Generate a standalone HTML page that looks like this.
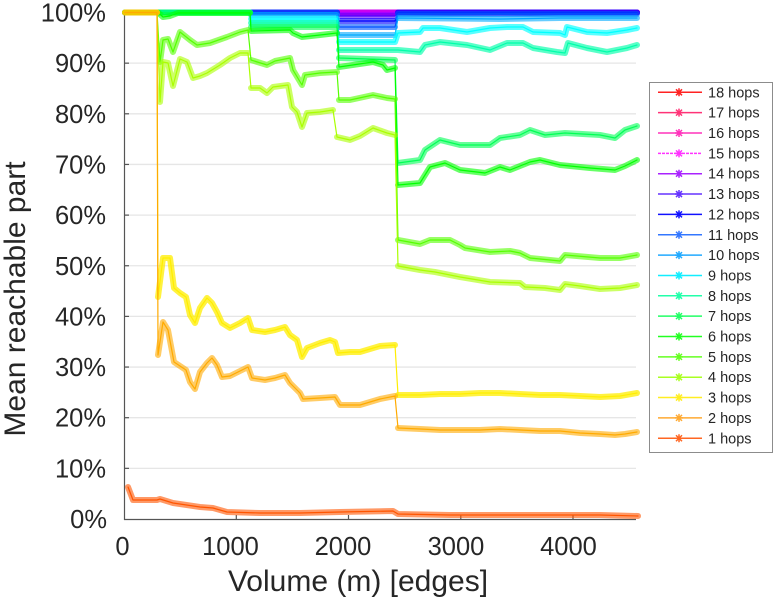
<!DOCTYPE html>
<html>
<head>
<meta charset="utf-8">
<style>
html,body{margin:0;padding:0;background:#fff;}
body{width:775px;height:600px;overflow:hidden;}
svg{display:block;}
text{font-family:"Liberation Sans",Arial,sans-serif;fill:#262626;}
</style>
</head>
<body>
<svg width="775" height="600" viewBox="0 0 775 600" xmlns="http://www.w3.org/2000/svg">
<rect x="0" y="0" width="775" height="600" fill="#fff"/>

<!-- gridlines -->
<g stroke="#e6e6e6" stroke-width="1.3">
<line x1="125" y1="468.35" x2="636" y2="468.35"/>
<line x1="125" y1="417.7" x2="636" y2="417.7"/>
<line x1="125" y1="367.05" x2="636" y2="367.05"/>
<line x1="125" y1="316.4" x2="636" y2="316.4"/>
<line x1="125" y1="265.75" x2="636" y2="265.75"/>
<line x1="125" y1="215.1" x2="636" y2="215.1"/>
<line x1="125" y1="164.45" x2="636" y2="164.45"/>
<line x1="125" y1="113.8" x2="636" y2="113.8"/>
<line x1="125" y1="63.15" x2="636" y2="63.15"/>
</g>

<!-- axes -->
<g stroke="#555" stroke-width="1.2" fill="none">
<line x1="124.5" y1="11" x2="124.5" y2="520"/>
<line x1="124" y1="519.5" x2="636" y2="519.5"/>
<line x1="236.3" y1="519.5" x2="236.3" y2="515"/>
<line x1="348.5" y1="519.5" x2="348.5" y2="515"/>
<line x1="460.8" y1="519.5" x2="460.8" y2="515"/>
<line x1="573" y1="519.5" x2="573" y2="515"/>
<line x1="124.5" y1="468.35" x2="129" y2="468.35"/>
<line x1="124.5" y1="417.7" x2="129" y2="417.7"/>
<line x1="124.5" y1="367.05" x2="129" y2="367.05"/>
<line x1="124.5" y1="316.4" x2="129" y2="316.4"/>
<line x1="124.5" y1="265.75" x2="129" y2="265.75"/>
<line x1="124.5" y1="215.1" x2="129" y2="215.1"/>
<line x1="124.5" y1="164.45" x2="129" y2="164.45"/>
<line x1="124.5" y1="113.8" x2="129" y2="113.8"/>
<line x1="124.5" y1="63.15" x2="129" y2="63.15"/>
</g>

<!-- series: draw 18 first, 1 last -->
<g fill="none" stroke-linejoin="round" stroke-linecap="round">
<g stroke="#ff0000"><path d="M125,12.5 L637,12.5" stroke-width="6" stroke-opacity=".6"/><path d="M125,12.5 L637,12.5" stroke-width="1.2"/></g>
<g stroke="#ff0055"><path d="M125,12.5 L637,12.5" stroke-width="6" stroke-opacity=".6"/><path d="M125,12.5 L637,12.5" stroke-width="1.2"/></g>
<g stroke="#ff00aa"><path d="M125,12.5 L637,12.5" stroke-width="6" stroke-opacity=".6"/><path d="M125,12.5 L637,12.5" stroke-width="1.2"/></g>
<g stroke="#ff00ff"><path d="M125,12.5 L637,12.5" stroke-width="6" stroke-opacity=".6"/><path d="M125,12.5 L637,12.5" stroke-width="1.2"/></g>
<g stroke="#aa00ff"><path d="M125,12.5 L637,12.5" stroke-width="6" stroke-opacity=".6"/><path d="M125,12.5 L637,12.5" stroke-width="1.2"/></g>
<g stroke="#5500ff"><path d="M125,12.5 L337,12.5 M339,16 L395,16 M398,12.5 L637,12.5" stroke-width="6" stroke-opacity=".6"/><polyline points="125,12.5 337,12.5 339,16 395,16 398,12.5 637,12.5" stroke-width="1.2"/></g>
<g stroke="#0000ff"><path d="M125,12.5 L337,12.5 M339,21 L395,21 M398,12.5 L637,12.5" stroke-width="6" stroke-opacity=".6"/><polyline points="125,12.5 337,12.5 339,21 395,21 398,12.5 637,12.5" stroke-width="1.2"/></g>
<g stroke="#0055ff"><path d="M125,12.5 L337,12.5 M339,27 L395,27 M398,14 L637,14" stroke-width="6" stroke-opacity=".6"/><polyline points="125,12.5 337,12.5 339,27 395,27 398,14 637,14" stroke-width="1.2"/></g>
<g stroke="#00aaff"><path d="M125,12.5 L250,12.5 M251,15 L337,15 M339,35 L395,35 M398,18 L500,19 L560,18 L637,18" stroke-width="6" stroke-opacity=".6"/><polyline points="125,12.5 250,12.5 251,15 337,15 339,35 395,35 398,18 500,19 560,18 637,18" stroke-width="1.2"/></g>
<g stroke="#00ffff"><path d="M125,12.5 L250,12.5 M251,19 L337,19 M339,42 L395,42 L398,33 L420,32 L423,28 L440,28 L467,32 L490,28 L507,27 L523,27 L533,32 L560,33 L565,35 L567,27 L587,32 L607,33 L627,30 L637,28" stroke-width="6" stroke-opacity=".65"/><polyline points="125,12.5 250,12.5 251,19 337,19 339,42 395,42 398,33 420,32 423,28 440,28 467,32 490,28 507,27 523,27 533,32 560,33 565,35 567,27 587,32 607,33 627,30 637,28" stroke-width="1.2"/></g>
<g stroke="#00ffaa"><path d="M125,12.5 L250,12.5 M251,23 L337,23 M339,50 L395,50 L398,50 L420,52 L425,45 L440,42 L467,45 L490,50 L507,43 L523,43 L533,48 L557,52 L565,53 L568,43 L587,48 L607,52 L627,48 L637,45" stroke-width="6" stroke-opacity=".65"/><polyline points="125,12.5 250,12.5 251,23 337,23 339,50 395,50 398,50 420,52 425,45 440,42 467,45 490,50 507,43 523,43 533,48 557,52 565,53 568,43 587,48 607,52 627,48 637,45" stroke-width="1.2"/></g>
<g stroke="#00ff55"><path d="M125,12.5 L250,12.5 M251,27 L337,27 M339,58 L395,60 M398,163 L420,160 L425,150 L440,140 L460,145 L490,145 L500,138 L520,135 L530,130 L545,135 L565,133 L600,135 L615,138 L625,130 L637,126" stroke-width="6" stroke-opacity=".6"/><polyline points="125,12.5 250,12.5 251,27 337,27 339,58 395,60 398,163 420,160 425,150 440,140 460,145 490,145 500,138 520,135 530,130 545,135 565,133 600,135 615,138 625,130 637,126" stroke-width="1.2"/></g>
<g stroke="#00ff00"><path d="M125,12.5 L158,12.5 L163,17 L170,16 L178,13 L250,13 M251,31 L290,30 L293,33 L302,37 L320,35 L337,33 M339,67 L373,62 L383,65 L387,70 L395,68 M398,185 L420,183 L430,167 L445,163 L460,170 L485,173 L500,167 L510,170 L530,162 L540,160 L560,165 L590,168 L615,170 L625,166 L637,160" stroke-width="6" stroke-opacity=".6"/><polyline points="125,12.5 158,12.5 163,17 170,16 178,13 250,13 251,31 290,30 293,33 302,37 320,35 337,33 339,67 373,62 383,65 387,70 395,68 398,185 420,183 430,167 445,163 460,170 485,173 500,167 510,170 530,162 540,160 560,165 590,168 615,170 625,166 637,160" stroke-width="1.2"/></g>
<g stroke="#55ff00"><path d="M125,12.5 L157,12.5 M160,62 L163,40 L168,39 L173,52 L180,32 L190,40 L197,45 L210,43 L227,37 L240,32 L248,30 M251,60 L267,65 L275,61 L290,58 L293,70 L302,85 L305,75 L320,73 L337,72 M339,100 L350,100 L373,95 L387,98 L395,99 M398,240 L420,244 L430,240 L450,240 L460,245 L465,248 L490,252 L510,251 L520,253 L530,258 L560,261 L565,255 L600,258 L620,258 L637,255" stroke-width="6" stroke-opacity=".6"/><polyline points="125,12.5 157,12.5 160,62 163,40 168,39 173,52 180,32 190,40 197,45 210,43 227,37 240,32 248,30 251,60 267,65 275,61 290,58 293,70 302,85 305,75 320,73 337,72 339,100 350,100 373,95 387,98 395,99 398,240 420,244 430,240 450,240 460,245 465,248 490,252 510,251 520,253 530,258 560,261 565,255 600,258 620,258 637,255" stroke-width="1.2"/></g>
<g stroke="#aaff00"><path d="M125,12.5 L157,12.5 M160,102 L163,62 L168,63 L173,86 L180,59 L187,62 L193,78 L200,76 L207,73 L220,65 L230,58 L240,53 L248,53 M251,88 L260,88 L267,93 L273,87 L288,85 L292,107 L297,112 L302,127 L307,113 L320,112 L333,110 M337,137 L350,140 L360,136 L373,128 L387,133 L395,135 M398,266 L420,270 L435,272 L460,277 L490,282 L520,283 L525,287 L545,288 L560,290 L565,284 L580,286 L600,289 L620,288 L637,285" stroke-width="6" stroke-opacity=".6"/><polyline points="125,12.5 157,12.5 160,102 163,62 168,63 173,86 180,59 187,62 193,78 200,76 207,73 220,65 230,58 240,53 248,53 251,88 260,88 267,93 273,87 288,85 292,107 297,112 302,127 307,113 320,112 333,110 337,137 350,140 360,136 373,128 387,133 395,135 398,266 420,270 435,272 460,277 490,282 520,283 525,287 545,288 560,290 565,284 580,286 600,289 620,288 637,285" stroke-width="1.2"/></g>
<g stroke="#ffee00"><path d="M125,12.5 L157,12.5 M158,297 L163,258 L170,258 L174,288 L180,293 L186,297 L190,315 L195,323 L200,308 L207,298 L212,303 L217,312 L222,323 L230,328 L240,323 L248,318 L252,330 L265,332 L275,330 L285,327 L290,335 L297,340 L302,357 L307,348 L320,343 L330,340 L335,342 L338,353 L350,352 L360,352 L370,349 L380,346 L395,345 M398,395 L420,395 L440,394 L460,394 L480,393 L500,393 L520,394 L540,395 L560,395 L580,396 L600,397 L620,396 L637,393" stroke-width="6" stroke-opacity=".75"/><polyline points="125,12.5 157,12.5 158,297 163,258 170,258 174,288 180,293 186,297 190,315 195,323 200,308 207,298 212,303 217,312 222,323 230,328 240,323 248,318 252,330 265,332 275,330 285,327 290,335 297,340 302,357 307,348 320,343 330,340 335,342 338,353 350,352 360,352 370,349 380,346 395,345 398,395 420,395 440,394 460,394 480,393 500,393 520,394 540,395 560,395 580,396 600,397 620,396 637,393" stroke-width="1.2"/></g>
<g stroke="#ffaa00"><path d="M125,12.5 L157,12.5 M158,355 L163,322 L168,330 L174,362 L180,366 L186,370 L190,382 L195,389 L200,372 L207,363 L212,358 L217,365 L222,377 L230,376 L240,371 L248,367 L252,378 L265,380 L275,378 L285,375 L290,383 L300,393 L303,399 L320,398 L335,397 L340,405 L360,405 L370,402 L380,399 L395,396 M398,428 L420,429 L440,430 L460,430 L480,430 L500,429 L520,430 L540,431 L560,431 L580,433 L600,434 L615,435 L625,434 L637,432" stroke-width="6" stroke-opacity=".6"/><polyline points="125,12.5 157,12.5 158,355 163,322 168,330 174,362 180,366 186,370 190,382 195,389 200,372 207,363 212,358 217,365 222,377 230,376 240,371 248,367 252,378 265,380 275,378 285,375 290,383 300,393 303,399 320,398 335,397 340,405 360,405 370,402 380,399 395,396 398,428 420,429 440,430 460,430 480,430 500,429 520,430 540,431 560,431 580,433 600,434 615,435 625,434 637,432" stroke-width="1.2"/></g>
<g stroke="#ff5500"><path d="M128,487 L133,500 L157,500 L160,499 L173,503 L200,507 L213,508 L227,512 L260,513 L300,513 L340,512 L393,511 L398,514 L450,515 L500,515 L550,515 L600,515 L638,516" stroke-width="6" stroke-opacity=".6"/><polyline points="128,487 133,500 157,500 160,499 173,503 200,507 213,508 227,512 260,513 300,513 340,512 393,511 398,514 450,515 500,515 550,515 600,515 638,516" stroke-width="1.2"/></g>
</g>

<!-- tick labels -->
<g font-size="25.5" text-anchor="end">
<text x="106" y="21.5">100%</text>
<text x="106" y="72.2">90%</text>
<text x="106" y="122.8">80%</text>
<text x="106" y="173.5">70%</text>
<text x="106" y="224.1">60%</text>
<text x="106" y="274.8">50%</text>
<text x="106" y="325.4">40%</text>
<text x="106" y="376.1">30%</text>
<text x="106" y="426.7">20%</text>
<text x="106" y="477.4">10%</text>
<text x="107" y="528">0%</text>
</g>
<g font-size="25.5" text-anchor="middle">
<text x="122.5" y="555">0</text>
<text x="230.5" y="555">1000</text>
<text x="343" y="555">2000</text>
<text x="456" y="555">3000</text>
<text x="568.5" y="555">4000</text>
</g>

<!-- axis titles -->
<text x="358" y="591" font-size="30" text-anchor="middle">Volume (m) [edges]</text>
<text x="0" y="0" font-size="30" text-anchor="middle" transform="translate(25,299) rotate(-90)">Mean reachable part</text>

<!-- legend -->
<rect x="649.5" y="82.5" width="123" height="370" fill="#fff" stroke="#8c8c8c" stroke-width="1"/>
<g fill="none" stroke-width="1.5">
<g stroke="#ff2222"><line x1="658" y1="92.3" x2="702" y2="92.3"/><path d="M675,92.3 H683 M679,88.3 V96.3 M676,89.3 L682,95.3 M676,95.3 L682,89.3"/></g>
<g stroke="#ff3377"><line x1="658" y1="112.65" x2="702" y2="112.65"/><path d="M675,112.65 H683 M679,108.65 V116.65 M676,109.65 L682,115.65 M676,115.65 L682,109.65"/></g>
<g stroke="#ff33bb"><line x1="658" y1="133" x2="702" y2="133"/><path d="M675,133 H683 M679,129 V137 M676,130 L682,136 M676,136 L682,130"/></g>
<g stroke="#ff33ff"><line x1="658" y1="153.35" x2="702" y2="153.35" stroke-dasharray="3 1"/><path d="M675,153.35 H683 M679,149.35 V157.35 M676,150.35 L682,156.35 M676,156.35 L682,150.35"/></g>
<g stroke="#aa22ff"><line x1="658" y1="173.7" x2="702" y2="173.7"/><path d="M675,173.7 H683 M679,169.7 V177.7 M676,170.7 L682,176.7 M676,176.7 L682,170.7"/></g>
<g stroke="#6633ff"><line x1="658" y1="194.05" x2="702" y2="194.05"/><path d="M675,194.05 H683 M679,190.05 V198.05 M676,191.05 L682,197.05 M676,197.05 L682,191.05"/></g>
<g stroke="#1111ff"><line x1="658" y1="214.4" x2="702" y2="214.4"/><path d="M675,214.4 H683 M679,210.4 V218.4 M676,211.4 L682,217.4 M676,217.4 L682,211.4"/></g>
<g stroke="#3377ff"><line x1="658" y1="234.75" x2="702" y2="234.75"/><path d="M675,234.75 H683 M679,230.75 V238.75 M676,231.75 L682,237.75 M676,237.75 L682,231.75"/></g>
<g stroke="#22aaff"><line x1="658" y1="255.1" x2="702" y2="255.1"/><path d="M675,255.1 H683 M679,251.1 V259.1 M676,252.1 L682,258.1 M676,258.1 L682,252.1"/></g>
<g stroke="#11eeff"><line x1="658" y1="275.45" x2="702" y2="275.45"/><path d="M675,275.45 H683 M679,271.45 V279.45 M676,272.45 L682,278.45 M676,278.45 L682,272.45"/></g>
<g stroke="#22ffaa"><line x1="658" y1="295.8" x2="702" y2="295.8"/><path d="M675,295.8 H683 M679,291.8 V299.8 M676,292.8 L682,298.8 M676,298.8 L682,292.8"/></g>
<g stroke="#22ff66"><line x1="658" y1="316.15" x2="702" y2="316.15"/><path d="M675,316.15 H683 M679,312.15 V320.15 M676,313.15 L682,319.15 M676,319.15 L682,313.15"/></g>
<g stroke="#22ff22"><line x1="658" y1="336.5" x2="702" y2="336.5"/><path d="M675,336.5 H683 M679,332.5 V340.5 M676,333.5 L682,339.5 M676,339.5 L682,333.5"/></g>
<g stroke="#66ff22"><line x1="658" y1="356.85" x2="702" y2="356.85"/><path d="M675,356.85 H683 M679,352.85 V360.85 M676,353.85 L682,359.85 M676,359.85 L682,353.85"/></g>
<g stroke="#aaff22"><line x1="658" y1="377.2" x2="702" y2="377.2"/><path d="M675,377.2 H683 M679,373.2 V381.2 M676,374.2 L682,380.2 M676,380.2 L682,374.2"/></g>
<g stroke="#ffee22"><line x1="658" y1="397.55" x2="702" y2="397.55"/><path d="M675,397.55 H683 M679,393.55 V401.55 M676,394.55 L682,400.55 M676,400.55 L682,394.55"/></g>
<g stroke="#ffaa33"><line x1="658" y1="417.9" x2="702" y2="417.9"/><path d="M675,417.9 H683 M679,413.9 V421.9 M676,414.9 L682,420.9 M676,420.9 L682,414.9"/></g>
<g stroke="#ff6622"><line x1="658" y1="438.25" x2="702" y2="438.25"/><path d="M675,438.25 H683 M679,434.25 V442.25 M676,435.25 L682,441.25 M676,441.25 L682,435.25"/></g>
</g>
<g font-size="14.5">
<text x="708" y="97.3">18 hops</text>
<text x="708" y="117.65">17 hops</text>
<text x="708" y="138">16 hops</text>
<text x="708" y="158.35">15 hops</text>
<text x="708" y="178.7">14 hops</text>
<text x="708" y="199.05">13 hops</text>
<text x="708" y="219.4">12 hops</text>
<text x="708" y="239.75">11 hops</text>
<text x="708" y="260.1">10 hops</text>
<text x="708" y="280.45">9 hops</text>
<text x="708" y="300.8">8 hops</text>
<text x="708" y="321.15">7 hops</text>
<text x="708" y="341.5">6 hops</text>
<text x="708" y="361.85">5 hops</text>
<text x="708" y="382.2">4 hops</text>
<text x="708" y="402.55">3 hops</text>
<text x="708" y="422.9">2 hops</text>
<text x="708" y="443.25">1 hops</text>
</g>
</svg>
</body>
</html>
